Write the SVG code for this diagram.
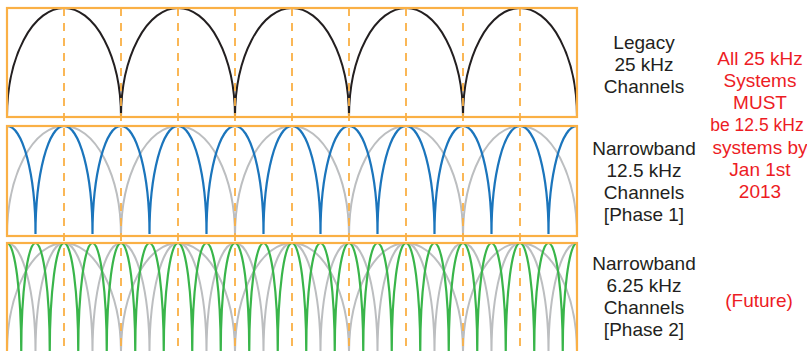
<svg xmlns="http://www.w3.org/2000/svg" width="807" height="351" viewBox="0 0 807 351">
<style>
.frame{fill:none;stroke:#FAB045;stroke-width:2.2}
.dash{fill:none;stroke:#FAB045;stroke-width:1.8;stroke-dasharray:8 7}
.legacy{fill:none;stroke:#231F20;stroke-width:2}
.grey{fill:none;stroke:#BCBEC0;stroke-width:2}
.blue{fill:none;stroke:#1B75BC;stroke-width:2.2}
.green{fill:none;stroke:#39B54A;stroke-width:2.2}
.lbl{font-family:"Liberation Sans",Arial,sans-serif;font-size:19px;fill:#231F20;text-anchor:middle}
.red{font-family:"Liberation Sans",Arial,sans-serif;font-size:19px;fill:#ED1C24;text-anchor:middle}
</style>
<defs>
<clipPath id="c1"><rect x="7" y="5" width="570" height="113"/></clipPath>
<clipPath id="c2"><rect x="7" y="123" width="570" height="114"/></clipPath>
<clipPath id="c3"><rect x="7" y="240" width="570" height="115"/></clipPath>
</defs>
<g id="panel-legacy">
<g clip-path="url(#c1)">
<path class="legacy" d="M7,117 a57 109 0 0 1 114 0 a57 109 0 0 1 114 0 a57 109 0 0 1 114 0 a57 109 0 0 1 114 0 a57 109 0 0 1 114 0"/>
</g>
<rect class="frame" x="7" y="8" width="570" height="109"/>
</g>
<g id="panel-narrowband-phase1">
<g clip-path="url(#c2)">
<path class="grey" d="M7,236 a57 110 0 0 1 114 0 a57 110 0 0 1 114 0 a57 110 0 0 1 114 0 a57 110 0 0 1 114 0 a57 110 0 0 1 114 0"/>
<path class="blue" d="M-21.5,234 a28.5 108 0 0 1 57 0 a28.5 108 0 0 1 57 0 a28.5 108 0 0 1 57 0 a28.5 108 0 0 1 57 0 a28.5 108 0 0 1 57 0 a28.5 108 0 0 1 57 0 a28.5 108 0 0 1 57 0 a28.5 108 0 0 1 57 0 a28.5 108 0 0 1 57 0 a28.5 108 0 0 1 57 0 a28.5 108 0 0 1 57 0"/>
</g>
<rect class="frame" x="7" y="126" width="570" height="110"/>
</g>
<g id="panel-narrowband-phase2">
<g clip-path="url(#c3)">
<path class="grey" d="M7,353 a57 110 0 0 1 114 0 a57 110 0 0 1 114 0 a57 110 0 0 1 114 0 a57 110 0 0 1 114 0 a57 110 0 0 1 114 0"/>
<path class="grey" d="M-21.5,353 a28.5 110 0 0 1 57 0 a28.5 110 0 0 1 57 0 a28.5 110 0 0 1 57 0 a28.5 110 0 0 1 57 0 a28.5 110 0 0 1 57 0 a28.5 110 0 0 1 57 0 a28.5 110 0 0 1 57 0 a28.5 110 0 0 1 57 0 a28.5 110 0 0 1 57 0 a28.5 110 0 0 1 57 0 a28.5 110 0 0 1 57 0"/>
<path class="green" d="M-7.25,353 a14.25 110 0 0 1 28.5 0 a14.25 110 0 0 1 28.5 0 a14.25 110 0 0 1 28.5 0 a14.25 110 0 0 1 28.5 0 a14.25 110 0 0 1 28.5 0 a14.25 110 0 0 1 28.5 0 a14.25 110 0 0 1 28.5 0 a14.25 110 0 0 1 28.5 0 a14.25 110 0 0 1 28.5 0 a14.25 110 0 0 1 28.5 0 a14.25 110 0 0 1 28.5 0 a14.25 110 0 0 1 28.5 0 a14.25 110 0 0 1 28.5 0 a14.25 110 0 0 1 28.5 0 a14.25 110 0 0 1 28.5 0 a14.25 110 0 0 1 28.5 0 a14.25 110 0 0 1 28.5 0 a14.25 110 0 0 1 28.5 0 a14.25 110 0 0 1 28.5 0 a14.25 110 0 0 1 28.5 0 a14.25 110 0 0 1 28.5 0"/>
</g>
<rect class="frame" x="7" y="243" width="570" height="110"/>
</g>
<g id="centre-lines">
<path class="dash" d="M64,8V351 M121,8V351 M178,8V351 M235,8V351 M292,8V351 M349,8V351 M406,8V351 M463,8V351 M520,8V351"/>
</g>
<g id="label-legacy">
<text class="lbl" x="644" y="49">Legacy</text>
<text class="lbl" x="644" y="71">25 kHz</text>
<text class="lbl" x="644" y="93">Channels</text>
</g>
<g id="label-phase1">
<text class="lbl" x="644" y="155">Narrowband</text>
<text class="lbl" x="644" y="177">12.5 kHz</text>
<text class="lbl" x="644" y="199">Channels</text>
<text class="lbl" x="644" y="221">[Phase 1]</text>
</g>
<g id="label-phase2">
<text class="lbl" x="644" y="270">Narrowband</text>
<text class="lbl" x="644" y="292">6.25 kHz</text>
<text class="lbl" x="644" y="314">Channels</text>
<text class="lbl" x="644" y="336">[Phase 2]</text>
</g>
<g id="note-deadline">
<text class="red" x="760" y="65">All 25 kHz</text>
<text class="red" x="760" y="87">Systems</text>
<text class="red" x="760" y="109">MUST</text>
<text class="red" x="757" y="131" style="font-size:17.5px">be 12.5 kHz</text>
<text class="red" x="760" y="154">systems by</text>
<text class="red" x="760" y="176">Jan 1st</text>
<text class="red" x="760" y="198">2013</text>
</g>
<g id="note-future">
<text class="red" x="759" y="307">(Future)</text>
</g>
</svg>
